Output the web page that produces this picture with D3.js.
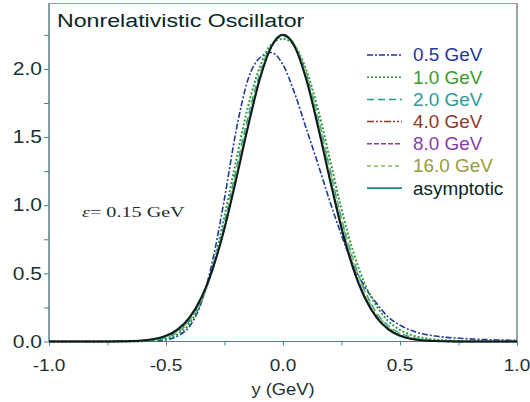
<!DOCTYPE html>
<html>
<head>
<meta charset="utf-8">
<script src="https://cdn.jsdelivr.net/npm/d3@7/dist/d3.min.js"></script>
<style>
  body { margin: 0; background: #fff; }
  svg { display: block; }
</style>
</head>
<body>
<div id="chart"></div>
<script>
// y grid (GeV) shared by every curve
var yGeV = [-1.00, -0.95, -0.90, -0.85, -0.80, -0.75, -0.70, -0.65, -0.60, -0.55,
  -0.50, -0.45, -0.40, -0.35, -0.30, -0.25, -0.20, -0.15, -0.10, -0.05,
  0.00, 0.05, 0.10, 0.15, 0.20, 0.25, 0.30, 0.35, 0.40, 0.45,
  0.50, 0.55, 0.60, 0.65, 0.70, 0.75, 0.80, 0.85, 0.90, 0.95, 1.00]

// curve values, one per energy
var gev05 = [0, 0, 0, 0, 0, 0, 0, 0, 0.001, 0.003,
  0.012, 0.04, 0.11, 0.28, 0.60, 1.05, 1.55, 1.92, 2.08, 2.12,
  2.03, 1.82, 1.56, 1.30, 1.03, 0.78, 0.56, 0.40, 0.28, 0.18,
  0.12, 0.08, 0.055, 0.04, 0.03, 0.024, 0.019, 0.015, 0.012, 0.01, 0.008]
var gev10 = [0, 0, 0, 0, 0, 0, 0, 0.001, 0.002, 0.006,
  0.02, 0.055, 0.13, 0.29, 0.55, 0.92, 1.33, 1.72, 2.01, 2.18,
  2.22, 2.17, 1.99, 1.70, 1.34, 0.97, 0.66, 0.42, 0.26, 0.15,
  0.085, 0.047, 0.026, 0.014, 0.008, 0.004, 0.002, 0.001, 0, 0, 0]
var gev20 = [0, 0, 0, 0, 0, 0, 0, 0.001, 0.004, 0.012,
  0.03, 0.07, 0.15, 0.30, 0.54, 0.87, 1.26, 1.64, 1.96, 2.17,
  2.24, 2.17, 1.96, 1.64, 1.27, 0.90, 0.60, 0.37, 0.21, 0.115,
  0.06, 0.03, 0.014, 0.007, 0.003, 0.001, 0, 0, 0, 0, 0]
var gev40 = [0, 0, 0, 0, 0, 0, 0.001, 0.002, 0.006, 0.016,
  0.038, 0.082, 0.165, 0.31, 0.535, 0.84, 1.21, 1.59, 1.93, 2.16,
  2.25, 2.17, 1.93, 1.59, 1.21, 0.85, 0.55, 0.33, 0.185, 0.095,
  0.046, 0.021, 0.009, 0.004, 0.001, 0, 0, 0, 0, 0, 0]
var gev80 = [0, 0, 0, 0, 0, 0, 0.001, 0.003, 0.007, 0.017,
  0.04, 0.086, 0.17, 0.315, 0.535, 0.835, 1.20, 1.58, 1.925, 2.16,
  2.25, 2.165, 1.925, 1.58, 1.20, 0.84, 0.54, 0.325, 0.18, 0.092,
  0.044, 0.019, 0.008, 0.003, 0.001, 0, 0, 0, 0, 0, 0]
var gev160 = [0, 0, 0, 0, 0, 0, 0, 0.001, 0.005, 0.014,
  0.034, 0.076, 0.155, 0.30, 0.53, 0.85, 1.23, 1.61, 1.94, 2.17,
  2.25, 2.18, 1.96, 1.63, 1.26, 0.89, 0.59, 0.36, 0.205, 0.11,
  0.055, 0.026, 0.012, 0.005, 0.002, 0.001, 0, 0, 0, 0, 0]
var asym = [0, 0, 0, 0, 0, 0, 0.001, 0.003, 0.007, 0.018,
  0.042, 0.089, 0.175, 0.319, 0.535, 0.830, 1.189, 1.571, 1.918, 2.162,
  2.250, 2.162, 1.918, 1.571, 1.189, 0.830, 0.535, 0.319, 0.175, 0.089,
  0.042, 0.018, 0.007, 0.003, 0.001, 0, 0, 0, 0, 0, 0]

var seriesNames = ['0.5 GeV', '1.0 GeV', '2.0 GeV', '4.0 GeV', '8.0 GeV', '16.0 GeV', 'asymptotic']
var seriesValues = [gev05, gev10, gev20, gev40, gev80, gev160, asym]

var xTicks = [-1.0, -0.5, 0.0, 0.5, 1.0]
var yTicks = [0.0, 0.5, 1.0, 1.5, 2.0]

// line looks for each series (same order as the names)
var lineColors = ['#1f3a9c', '#2f9a35', '#1f9c9c', '#8a3a2c', '#8a3aa6', '#7cc060', '#0c1c1c']
var textColors = ['#23369a', '#3a9a2a', '#2a9a9a', '#8a3a2a', '#8a3aa8', '#9a9a38', '#0a2626']
var dashes = ['6,2,2,2', '2,2', '7,4', '7,2,2,2,2,2', '5,2', '4,3', null]
var widths = [1.6, 2, 1.6, 1.6, 1.6, 1.6, 2]

var width = 530
var height = 402
var axisColor = '#3a8a8a'

var svg = d3.select('#chart')
  .append('svg')
  .attr('width', width)
  .attr('height', height)

var x = d3.scaleLinear().domain([-1, 1]).range([49, 517])
var y = d3.scaleLinear().domain([0, 2.48]).range([341.5, 3.5])

// helper: text that is a bit stretched horizontally like the original figure
function addText(tx, ty, str, size, sx, anchor, color, family) {
  return svg.append('text')
    .attr('transform', 'translate(' + tx + ',' + ty + ') scale(' + sx + ',1)')
    .attr('text-anchor', anchor)
    .attr('font-family', family || 'Liberation Sans, Arial, sans-serif')
    .attr('font-size', size)
    .attr('fill', color)
    .text(str)
}

// frame round the plot area
svg.append('rect')
  .attr('x', x(-1))
  .attr('y', y(2.48))
  .attr('width', x(1) - x(-1))
  .attr('height', y(0) - y(2.48))
  .attr('fill', 'none')
  .attr('stroke', '#d98a8a')
  .attr('stroke-width', 1)

// axes with ticks every 0.25, labels every 0.5
var xAxis = d3.axisBottom(x).tickValues(d3.range(-1, 1.01, 0.25)).tickSize(4).tickFormat('')
var yAxis = d3.axisLeft(y).tickValues(d3.range(0, 2.3, 0.25)).tickSize(5).tickFormat('')

var gx = svg.append('g').attr('transform', 'translate(0,' + y(0) + ')').call(xAxis)
var gy = svg.append('g').attr('transform', 'translate(' + x(-1) + ',0)').call(yAxis)
;[gx, gy].forEach(function (g) {
  g.select('.domain').attr('stroke', axisColor).attr('stroke-width', 1.2)
  g.selectAll('.tick line').attr('stroke', axisColor).attr('stroke-width', 1)
})
gy.select('.domain').attr('d', 'M0,' + y(0) + 'V' + y(2.48))
gx.select('.domain').attr('d', 'M' + x(-1) + ',0H' + x(1))

// right border in axis color too
svg.append('line')
  .attr('x1', x(1)).attr('x2', x(1))
  .attr('y1', y(0)).attr('y2', y(2.48))
  .attr('stroke', axisColor)
  .attr('stroke-width', 1)

xTicks.forEach(function (t) {
  addText(x(t), 371, d3.format('.1f')(t).replace('−', '-'), 16.5, 1.15, 'middle', '#1c3030')
})
yTicks.forEach(function (t) {
  addText(42, y(t) + 6.2, d3.format('.1f')(t), 17.5, 1.2, 'end', '#1c3030')
})

// axis title
addText(283, 395, 'y (GeV)', 17, 1.08, 'middle', '#1c3030')

// title
addText(57, 26.7, 'Nonrelativistic Oscillator', 19, 1.22, 'start', '#0a2626')

// epsilon note
var eps = svg.append('text')
  .attr('transform', 'translate(82,216.5) scale(1.3,1)')
  .attr('font-family', 'Liberation Serif, Times New Roman, serif')
  .attr('font-size', 15.5)
  .attr('fill', '#1c3030')
eps.append('tspan').attr('font-style', 'italic').text('ε')
eps.append('tspan').text('= 0.15 GeV')

// curves
var line = d3.line()
  .x(function (d, i) { return x(yGeV[i]) })
  .y(function (d) { return y(d) })
  .curve(d3.curveMonotoneX)

seriesValues.forEach(function (vals, k) {
  svg.append('path')
    .attr('d', line(vals))
    .attr('fill', 'none')
    .attr('stroke', lineColors[k])
    .attr('stroke-width', widths[k])
    .attr('stroke-dasharray', dashes[k])
})

// legend
seriesNames.forEach(function (name, k) {
  var ly = 55 + k * 22.2
  svg.append('line')
    .attr('x1', 367).attr('x2', 402)
    .attr('y1', ly).attr('y2', ly)
    .attr('stroke', k == 6 ? '#1f8a80' : lineColors[k])
    .attr('stroke-width', k == 6 ? 1.8 : 1.5)
    .attr('stroke-dasharray', dashes[k])
  addText(413, ly + 6.3, name, 17.5, 1.08, 'start', textColors[k])
})
</script>
</body>
</html>
